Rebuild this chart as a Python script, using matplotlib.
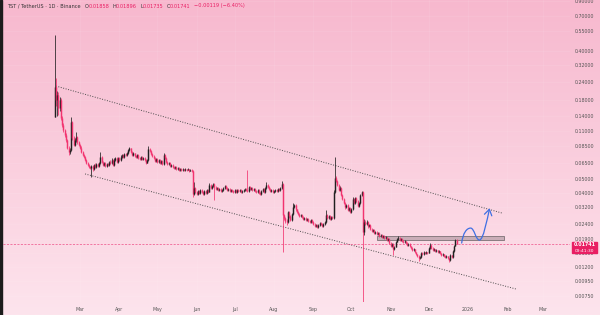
import numpy as np
import pandas as pd
import matplotlib
matplotlib.use("Agg")
import matplotlib.pyplot as plt
import matplotlib.dates as mdates
from matplotlib.colors import LinearSegmentedColormap
from matplotlib.path import Path
from matplotlib.patches import FancyArrowPatch, Rectangle

# daily candles, TST/USDT (Binance), first candle 2025-02-09
start = "2025-02-09"
first_open = 0.137

close = [
    .2228, .1805, .1957, .1585, .1805, .1348, .1203, .1109, .1023, .0943,
    .0829, .0776, .0802, .1263, .0974, .0870, .0943, .0990, .0913, .0870,
    .0829, .0776, .0740, .0716, .0682, .0650, .0629, .0609, .0599, .0619,
    .0589, .0629, .0609, .0639, .0619, .0650, .0716, .0660, .0629, .0650,
    .0619, .0639, .0629, .0660, .0650, .0682, .0629, .0682, .0705, .0660,
    .0705, .0682, .0716, .0740, .0716, .0752, .0740, .0764, .0802, .0829,
    .0776, .0740, .0764, .0728, .0716, .0740, .0705, .0693, .0716, .0693,
    .0705, .0682, .0650, .0682, .0815, .0789, .0752, .0728, .0705, .0671,
    .0693, .0660, .0682, .0650, .0671, .0639, .0740, .0705, .0660, .0639,
    .0650, .0619, .0629, .0609, .0599, .0609, .0589, .0599, .0580, .0589,
    .0580, .0589, .0580, .0589, .0580, .0589, .0571, .0580, .0571, .0393,
    .0433, .0406, .0393, .0412, .0399, .0419, .0406, .0393, .0412, .0399,
    .0419, .0406, .0455, .0433, .0448, .0462, .0440, .0426, .0433, .0419,
    .0426, .0412, .0419, .0433, .0448, .0433, .0419, .0426, .0412, .0419,
    .0412, .0406, .0419, .0406, .0419, .0412, .0419, .0406, .0412, .0419,
    .0426, .0419, .0412, .0440, .0426, .0433, .0419, .0426, .0412, .0406,
    .0419, .0399, .0393, .0412, .0426, .0406, .0433, .0455, .0440, .0426,
    .0412, .0419, .0406, .0412, .0419, .0412, .0426, .0419, .0433, .0462,
    .0279, .0266, .0254, .0250, .0293, .0275, .0258, .0284, .0318, .0328,
    .0307, .0293, .0284, .0275, .0279, .0270, .0261, .0266, .0258, .0261,
    .0254, .0250, .0258, .0250, .0242, .0233, .0237, .0229, .0237, .0246,
    .0242, .0233, .0242, .0250, .0279, .0266, .0275, .0261, .0270, .0266,
    .0406, .0510, .0485, .0455, .0419, .0433, .0386, .0362, .0339, .0318,
    .0328, .0303, .0312, .0293, .0307, .0362, .0339, .0368, .0350, .0323,
    .0339, .0386, .0406, .0212, .0250, .0242, .0250, .0233, .0237, .0222,
    .0215, .0219, .0209, .0212, .0205, .0209, .01988, .0202, .01955, .01988,
    .01924, .01955, .01862, .01893, .01773, .01689, .01745, .01609, .01662, .01802,
    .01893, .01924, .01862, .01893, .01832, .01802, .01832, .01773, .01717, .01745,
    .01689, .01635, .01583, .01609, .01532, .01483, .01436, .01390, .01412, .01508,
    .01483, .01532, .01508, .01532, .01508, .01635, .01717, .01635, .01583, .01609,
    .01558, .01583, .01532, .01558, .01508, .01459, .01483, .01436, .01412, .01436,
    .01390, .01345, .01459, .01412, .01558, .01689, .01858, .01741,
]

high = [
    .518, .258, .210, .205, .190, .185, .140, .125, .113, .105,
    .0960, .0850, .0830, .1370, .1280, .1000, .0980, .1080, .1000, .0930,
    .0890, .0850, .0790, .0755, .0730, .0695, .0660, .0640, .0620, .0630,
    .0630, .0640, .0645, .0650, .0650, .0660, .0776, .0730, .0670, .0665,
    .0660, .0650, .0650, .0675, .0680, .0700, .0690, .0700, .0720, .0715,
    .0720, .0720, .0735, .0755, .0750, .0770, .0765, .0780, .0815, .0842,
    .0835, .0785, .0780, .0770, .0740, .0755, .0750, .0715, .0725, .0725,
    .0715, .0712, .0690, .0690, .0856, .0830, .0800, .0760, .0735, .0712,
    .0705, .0700, .0695, .0690, .0685, .0680, .0764, .0750, .0712, .0668,
    .0662, .0658, .0640, .0635, .0615, .0620, .0615, .0607, .0605, .0597,
    .0595, .0596, .0594, .0596, .0594, .0597, .0594, .0588, .0585, .0576,
    .0477, .0440, .0412, .0420, .0418, .0426, .0424, .0410, .0420, .0416,
    .0426, .0424, .0470, .0460, .0455, .0470, .0466, .0445, .0440, .0438,
    .0432, .0430, .0426, .0440, .0455, .0452, .0437, .0432, .0430, .0425,
    .0424, .0416, .0424, .0423, .0425, .0424, .0424, .0423, .0418, .0425,
    .0432, .0430, .0580, .0448, .0445, .0440, .0437, .0432, .0430, .0416,
    .0425, .0423, .0404, .0418, .0432, .0430, .0440, .0477, .0460, .0445,
    .0430, .0425, .0423, .0418, .0425, .0424, .0432, .0430, .0440, .0485,
    .0470, .0285, .0270, .0260, .0300, .0298, .0280, .0290, .0339, .0336,
    .0332, .0310, .0298, .0288, .0285, .0283, .0274, .0271, .0269, .0266,
    .0264, .0258, .0262, .0261, .0253, .0245, .0242, .0240, .0242, .0250,
    .0250, .0245, .0247, .0255, .0303, .0283, .0280, .0278, .0276, .0274,
    .0419, .0716, .0530, .0493, .0462, .0445, .0438, .0392, .0368, .0343,
    .0336, .0332, .0320, .0316, .0313, .0374, .0368, .0375, .0372, .0354,
    .0345, .0395, .0412, .0412, .0262, .0256, .0256, .0253, .0243, .0240,
    .0226, .0224, .0222, .0216, .0215, .0213, .0211, .0206, .0204, .0202,
    .0201, .0199, .0197, .0193, .0191, .0179, .0178, .0176, .0170, .0183,
    .0193, .0199, .0195, .0192, .0191, .0185, .0186, .01845, .0179, .0177,
    .0176, .0170, .0165, .0163, .0162, .01545, .01495, .0145, .0143, .0153,
    .01525, .0155, .01545, .0155, .01545, .0166, .01773, .0173, .0165, .0163,
    .0162, .0160, .01595, .01575, .0157, .0152, .0150, .01495, .0145, .01455,
    .01445, .0140, .0148, .0147, .0158, .0171, .0188, .01896,
]

low = [
    .136, .164, .140, .142, .150, .130, .116, .108, .099, .092,
    .0810, .0740, .0750, .0790, .0950, .0850, .0860, .0920, .0890, .0850,
    .0810, .0760, .0725, .0700, .0670, .0635, .0615, .0595, .0585, .0518,
    .0575, .0580, .0600, .0600, .0610, .0610, .0640, .0650, .0615, .0620,
    .0605, .0610, .0615, .0620, .0640, .0640, .0615, .0620, .0670, .0650,
    .0650, .0670, .0675, .0705, .0705, .0710, .0725, .0730, .0755, .0790,
    .0765, .0725, .0730, .0715, .0705, .0705, .0695, .0680, .0685, .0685,
    .0685, .0672, .0640, .0645, .0675, .0775, .0740, .0715, .0690, .0660,
    .0660, .0650, .0650, .0640, .0640, .0630, .0632, .0695, .0650, .0630,
    .0630, .0610, .0610, .0600, .0590, .0592, .0582, .0583, .0573, .0575,
    .0574, .0575, .0573, .0575, .0574, .0576, .0565, .0566, .0564, .0374,
    .0385, .0398, .0386, .0388, .0392, .0395, .0400, .0386, .0388, .0393,
    .0396, .0400, .0403, .0428, .0428, .0442, .0356, .0420, .0420, .0413,
    .0414, .0406, .0408, .0415, .0428, .0428, .0413, .0414, .0406, .0407,
    .0407, .0400, .0402, .0400, .0402, .0406, .0407, .0400, .0401, .0407,
    .0414, .0413, .0407, .0408, .0420, .0420, .0413, .0414, .0406, .0400,
    .0401, .0393, .0386, .0388, .0408, .0400, .0402, .0428, .0435, .0420,
    .0406, .0407, .0400, .0401, .0407, .0406, .0408, .0413, .0414, .0428,
    .0153, .0258, .0246, .0238, .0246, .0268, .0252, .0254, .0280, .0312,
    .0300, .0288, .0278, .0270, .0270, .0265, .0256, .0257, .0253, .0254,
    .0249, .0245, .0246, .0245, .0237, .0229, .0229, .0225, .0226, .0234,
    .0238, .0229, .0230, .0238, .0247, .0261, .0262, .0256, .0257, .0260,
    .0262, .0400, .0475, .0445, .0410, .0410, .0378, .0355, .0332, .0310,
    .0312, .0297, .0298, .0287, .0288, .0303, .0334, .0334, .0344, .0318,
    .0318, .0335, .0380, .0067, .0202, .0237, .0238, .0228, .0229, .0218,
    .0211, .0211, .0205, .0205, .0201, .0201, .01955, .0196, .01925, .0193,
    .01895, .0190, .01835, .0184, .01745, .0166, .0167, .0146, .0159, .0165,
    .0179, .0187, .0184, .01845, .0181, .0178, .01785, .0175, .01695, .0170,
    .01665, .0161, .0156, .01565, .0151, .0146, .01415, .01323, .0137, .0140,
    .01465, .0147, .0149, .01495, .0149, .0150, .0162, .01615, .01565, .0157,
    .0154, .01545, .01515, .0152, .0149, .0144, .01445, .0142, .01395, .0140,
    .0137, .01302, .01335, .01395, .0140, .01545, .0168, .01735,
]

price_ticks = [0.9, 0.7, 0.55, 0.4, 0.32, 0.24, 0.18, 0.14, 0.11, 0.085, 0.065,
               0.05, 0.04, 0.032, 0.024, 0.019, 0.015, 0.012, 0.0095, 0.0075]
month_ticks = pd.date_range("2025-03-01", "2026-03-01", freq="MS")
month_labels = ["Mar", "Apr", "May", "Jun", "Jul", "Aug", "Sep", "Oct", "Nov",
                "Dec", "2026", "Feb", "Mar"]

# drawings: channel, resistance zone, projected path
upper_line = (["2025-02-10", "2026-01-28"], [0.2265, 0.0288])
lower_line = (["2025-03-05", "2026-02-08"], [0.0544, 0.0084])
zone_dates = ["2025-10-21", "2026-01-29"]
zone_prices = [0.0186, 0.0200]
path_dates = ["2025-12-27", "2025-12-28", "2025-12-31", "2026-01-03",
              "2026-01-06", "2026-01-07", "2026-01-10",
              "2026-01-13", "2026-01-16", "2026-01-18"]
path_prices = [0.01773, 0.0209, 0.0226, 0.0226,
               0.0226, 0.01862, 0.01862,
               0.01862, 0.0258, 0.0312]

last_price = 0.01741
countdown = "09:41:30"
header = "TST / TetherUS · 1D · Binance"
ohlc_text = [("O", "0.01858"), ("H", "0.01896"), ("L", "0.01735"), ("C", "0.01741")]
change_text = "−0.00119 (−6.40%)"

assert len(close) == len(high) == len(low)

W, H = 600, 315
UP = "#1f1f1f"
DOWN = "#f2336f"
PINK = "#e91e63"

fig = plt.figure(figsize=(W / 100, H / 100), dpi=100)

bg = fig.add_axes([0, 0, 1, 1], zorder=0)
bg_cmap = LinearSegmentedColormap.from_list("bg", ["#f7b8ce", "#fde4ed"])
bg.imshow(np.linspace(0, 1, 256)[:, None], aspect="auto", cmap=bg_cmap,
          extent=(0, 1, 0, 1), origin="upper")
bg.axis("off")

ax = fig.add_axes([3 / W, 13 / H, 567 / W, 302 / H], zorder=1)
ax.patch.set_alpha(0)

dates = mdates.date2num(pd.date_range(start, periods=len(close), freq="D"))
c = np.array(close)
o = np.concatenate([[first_open], c[:-1]])
hi = np.array(high)
lo = np.array(low)
col = np.where(c >= o, UP, DOWN)

ax.vlines(dates, lo, hi, colors=col, lw=0.55, zorder=3)
ax.vlines(dates, np.minimum(o, c), np.maximum(o, c), colors=col, lw=1.05,
          zorder=4, capstyle="butt")

for dd, pp in (upper_line, lower_line):
    ax.plot(mdates.date2num(pd.to_datetime(dd)), pp, color="#4d4d4d", lw=0.7,
            ls=(0, (1, 1.6)), zorder=2)

z0, z1 = mdates.date2num(pd.to_datetime(zone_dates))
ax.add_patch(Rectangle((z0, zone_prices[0]), z1 - z0, zone_prices[1] - zone_prices[0],
                       facecolor=(0.55, 0.47, 0.5, 0.45), edgecolor="#7c7075",
                       lw=0.6, zorder=2))

ax.axhline(last_price, color="#ee4d86", lw=0.5, dashes=(3, 2), zorder=2)

verts = list(zip(mdates.date2num(pd.to_datetime(path_dates)), path_prices))
codes = [Path.MOVETO] + [Path.CURVE4] * 9
arrow = FancyArrowPatch(path=Path(verts, codes), arrowstyle="->,head_length=0.7,head_width=0.45",
                        mutation_scale=6, color="#3f6fe3", lw=0.9, zorder=5)
ax.add_patch(arrow)

mar1 = mdates.date2num(pd.Timestamp("2025-03-01"))
ax.set_xlim(mar1 - 60.7, mar1 + 386.4)
ax.set_yscale("log")
ax.set_ylim(0.00681, 0.9146)

ax.yaxis.tick_right()
ax.set_yticks(price_ticks)
ax.set_yticklabels([f"{t:.5f}" for t in price_ticks])
ax.yaxis.set_minor_locator(matplotlib.ticker.NullLocator())
ax.set_xticks(mdates.date2num(month_ticks))
ax.set_xticklabels(month_labels)
ax.tick_params(axis="y", length=0, pad=3.6, labelsize=3.4, labelcolor="#555555")
ax.tick_params(axis="x", length=0, pad=3.6, labelsize=3.4, labelcolor="#555555")
ax.grid(True, color="white", alpha=0.1, lw=0.5, zorder=1)
for s in ax.spines.values():
    s.set_visible(False)

# left toolbar edge
fig.patches.append(Rectangle((0, 0), 2 / W, 1, transform=fig.transFigure,
                             color="#1c1c1c", zorder=6))

# last price tag
fig.patches.append(Rectangle((572 / W, 1 - 253 / H), 25 / W, 11 / H,
                             transform=fig.transFigure, color=PINK, zorder=6))
fig.text(584.5 / W, 1 - 245 / H, f"{last_price:.5f}", color="white", fontsize=3.4,
         weight="bold", ha="center", va="center", zorder=7)
fig.text(584.5 / W, 1 - 250.5 / H, countdown, color="white", fontsize=3.2,
         ha="center", va="center", zorder=7)

# header line
renderer = fig.canvas.get_renderer()
pieces = [(header, "#333333", 4)]
for k, v in ohlc_text:
    pieces += [(k, "#333333", 0), (v, PINK, 3)]
pieces.append((change_text, PINK, 0))
xp = 7
for s, cl, gap in pieces:
    t = fig.text(xp / W, 1 - 6 / H, s, color=cl, fontsize=3.6, ha="left",
                 va="center", zorder=7)
    xp += t.get_window_extent(renderer).width + gap

fig.savefig("out.png", dpi=100)
